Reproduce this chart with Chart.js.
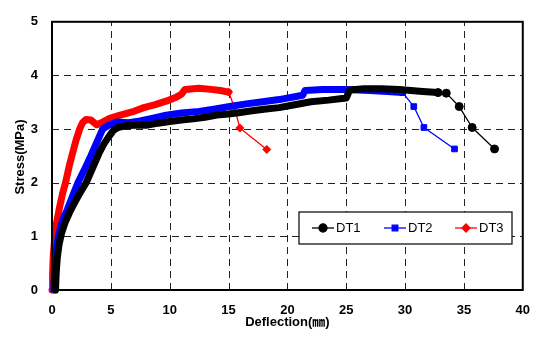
<!DOCTYPE html>
<html>
<head>
<meta charset="utf-8">
<script src="https://cdn.jsdelivr.net/npm/chart.js@4"></script>
<style>
  html, body { margin: 0; padding: 0; background: #fff; }
  #wrap { position: relative; width: 543px; height: 337px; }
</style>
</head>
<body>
<div id="wrap"><canvas id="chart" width="543" height="337"></canvas></div>
<script>
// Stress–deflection curves
const dt1X = [0.3, 0.35, 0.45, 0.6, 0.8, 1.1, 1.5, 1.9, 2.3, 2.9, 3.3, 3.7, 4.0, 4.4, 4.8, 5.2, 5.6, 6.2, 7.0, 8.0,
              9.0, 10.0, 11.0, 12.0, 13.0, 14.0, 15.0, 16.0, 17.0, 18.0, 19.3, 20.5, 22.0, 23.5, 25.0, 25.3, 26.5,
              28.0, 29.5, 30.5, 31.5, 32.8];
const dt1Y = [0, 0.3, 0.6, 0.85, 1.05, 1.25, 1.45, 1.62, 1.78, 2.0, 2.2, 2.4, 2.55, 2.72, 2.85, 2.97, 3.03, 3.06, 3.07, 3.07,
              3.11, 3.14, 3.17, 3.19, 3.22, 3.26, 3.28, 3.31, 3.34, 3.37, 3.4, 3.45, 3.51, 3.54, 3.58, 3.73, 3.75,
              3.75, 3.74, 3.72, 3.7, 3.68];
const dt1TailX = [33.5, 34.6, 35.7, 37.6];
const dt1TailY = [3.67, 3.42, 3.03, 2.63];

const dt2X = [0.15, 0.2, 0.3, 0.45, 0.65, 0.9, 1.3, 1.75, 2.2, 2.7, 3.3, 3.7, 4.0, 4.3, 4.8, 5.5, 6.5, 7.5, 8.5, 9.7,
              11.0, 12.5, 14.0, 15.1, 16.5, 17.9, 19.3, 21.3, 21.5, 23.0, 25.0, 27.0, 28.5, 29.8];
const dt2Y = [0, 0.3, 0.6, 0.9, 1.1, 1.3, 1.5, 1.75, 2.0, 2.22, 2.5, 2.7, 2.85, 3.0, 3.07, 3.13, 3.12, 3.15, 3.2, 3.26,
              3.3, 3.33, 3.38, 3.42, 3.47, 3.51, 3.55, 3.63, 3.72, 3.74, 3.74, 3.72, 3.7, 3.68];
const dt2TailX = [30.74, 31.6, 34.2];
const dt2TailY = [3.42, 3.03, 2.63];

const dt3X = [0, 0.05, 0.1, 0.2, 0.35, 0.6, 0.9, 1.15, 1.45, 1.75, 2.05, 2.35, 2.6, 2.9, 3.3, 3.8, 4.3, 4.9, 5.8, 6.8,
              7.8, 8.7, 9.7, 10.6, 11.0, 11.3, 12.5, 13.5, 14.3, 15.0];
const dt3Y = [0, 0.3, 0.6, 0.9, 1.2, 1.5, 1.8, 2.0, 2.3, 2.55, 2.8, 3.0, 3.12, 3.18, 3.17, 3.08, 3.13, 3.2, 3.26, 3.32,
              3.4, 3.45, 3.52, 3.6, 3.65, 3.74, 3.76, 3.74, 3.72, 3.69];
const dt3TailX = [15.48, 15.96, 18.25];
const dt3TailY = [3.42, 3.02, 2.62];

const xTicks = [0, 5, 10, 15, 20, 25, 30, 35, 40];
const yTicks = [0, 1, 2, 3, 4, 5];
const xTitle = 'Deflection(㎜)';
const yTitle = 'Stress(MPa)';

const FONT = "'Liberation Sans', Arial, 'Noto Sans CJK KR', sans-serif";

function makeSeries(label, color, style, xs, ys, tx, ty) {
    const n = xs.length;
    const allY = ys.concat(ty);
    const pts = xs.concat(tx).map((x, i) => ({ x: x, y: allY[i] }));
    return {
        label: label,
        data: pts,
        showLine: true,
        borderColor: color,
        backgroundColor: color,
        pointStyle: style,
        pointBorderColor: color,
        pointBackgroundColor: color,
        pointRadius: c => (c.dataIndex >= n - 1 ? 4 : 0),
        pointHoverRadius: 0,
        borderJoinStyle: 'round',
        borderCapStyle: 'round',
        segment: {
            borderWidth: c => (c.p0DataIndex >= n - 1 ? 1.3 : 7)
        },
        clip: false
    };
}

// dashed grid, frame and axis titles
const dashGrid = {
    id: 'dashGrid',
    beforeDatasetsDraw(chart) {
        const { ctx, chartArea: a, scales } = chart;
        ctx.save();
        ctx.strokeStyle = '#222';
        ctx.lineWidth = 1;
        ctx.setLineDash([7, 5]);
        xTicks.slice(1, -1).forEach(v => {
            const px = Math.round(scales.x.getPixelForValue(v)) + 0.5;
            ctx.beginPath();
            ctx.moveTo(px, a.bottom);
            ctx.lineTo(px, a.top);
            ctx.stroke();
        });
        yTicks.slice(1, -1).forEach(v => {
            const py = Math.round(scales.y.getPixelForValue(v)) + 0.5;
            ctx.beginPath();
            ctx.moveTo(a.left, py);
            ctx.lineTo(a.right, py);
            ctx.stroke();
        });
        ctx.restore();
    },
    afterDraw(chart) {
        const { ctx, chartArea: a } = chart;
        ctx.save();
        ctx.strokeStyle = '#000';
        ctx.lineWidth = 2;
        ctx.strokeRect(a.left, a.top, a.right - a.left, a.bottom - a.top);

        ctx.fillStyle = '#000';
        ctx.font = 'bold 13px ' + FONT;
        ctx.textAlign = 'center';
        ctx.textBaseline = 'middle';
        ctx.fillText(xTitle, (a.left + a.right) / 2, 322);
        ctx.translate(20, 157);
        ctx.rotate(-Math.PI / 2);
        ctx.fillText(yTitle, 0, 0);
        ctx.restore();
    }
};

// boxed legend with line + marker, like the original
const boxLegend = {
    id: 'boxLegend',
    afterDraw(chart) {
        const ctx = chart.ctx;
        const bx = 299, by = 212, bw = 213, bh = 32;
        ctx.save();
        ctx.fillStyle = '#fff';
        ctx.fillRect(bx, by, bw, bh);
        ctx.strokeStyle = '#000';
        ctx.lineWidth = 1.2;
        ctx.strokeRect(bx, by, bw, bh);
        const starts = [312, 384, 455];
        const cy = by + bh / 2;
        chart.data.datasets.forEach((ds, i) => {
            const x0 = starts[i];
            ctx.strokeStyle = ds.borderColor;
            ctx.lineWidth = 1.3;
            ctx.beginPath();
            ctx.moveTo(x0, cy);
            ctx.lineTo(x0 + 22, cy);
            ctx.stroke();
            ctx.fillStyle = ds.borderColor;
            Chart.helpers.drawPoint(ctx, {
                pointStyle: ds.pointStyle, radius: 4, borderWidth: 1, rotation: 0
            }, x0 + 11, cy);
            ctx.fillStyle = '#000';
            ctx.font = '13px ' + FONT;
            ctx.textBaseline = 'middle';
            ctx.textAlign = 'left';
            ctx.fillText(ds.label, x0 + 24, cy + 0.5);
        });
        ctx.restore();
    }
};

new Chart(document.getElementById('chart'), {
    type: 'scatter',
    data: {
        datasets: [
            makeSeries('DT1', '#000000', 'circle', dt1X, dt1Y, dt1TailX, dt1TailY),
            makeSeries('DT2', '#0000ff', 'rect', dt2X, dt2Y, dt2TailX, dt2TailY),
            makeSeries('DT3', '#ff0000', 'rectRot', dt3X, dt3Y, dt3TailX, dt3TailY)
        ]
    },
    options: {
        responsive: false,
        animation: false,
        layout: { padding: { top: 7, right: 20, left: 0, bottom: 0 } },
        plugins: {
            legend: { display: false },
            tooltip: { enabled: false }
        },
        scales: {
            x: {
                type: 'linear',
                min: 0, max: 40,
                afterFit(scale) { scale.height = 47; },
                afterBuildTicks(scale) { scale.ticks = xTicks.map(v => ({ value: v })); },
                grid: { display: false, drawTicks: false },
                border: { display: false },
                ticks: { color: '#000', padding: 13, font: { family: FONT, size: 13, weight: 'bold' } }
            },
            y: {
                type: 'linear',
                min: 0, max: 5,
                afterFit(scale) { scale.width = 52; },
                afterBuildTicks(scale) { scale.ticks = yTicks.map(v => ({ value: v })); },
                grid: { display: false, drawTicks: false },
                border: { display: false },
                ticks: { color: '#000', padding: 14, font: { family: FONT, size: 13, weight: 'bold' } }
            }
        }
    },
    plugins: [dashGrid, boxLegend]
});
</script>
</body>
</html>
